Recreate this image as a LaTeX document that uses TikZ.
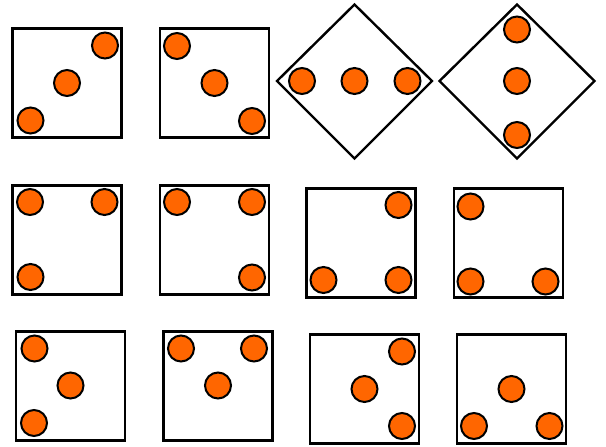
\documentclass[tikz,border=0pt]{standalone}
\definecolor{dotorange}{HTML}{FF6600}
\begin{document}
\begin{tikzpicture}[x=1pt,y=-1pt,
  frame/.style={draw=black,line width=2.4pt,line join=miter},
  pip/.style={draw=black,fill=dotorange,line width=2pt}]
\useasboundingbox (0,0) rectangle (606,447);
% row 1
\draw[frame] (12.5,28.5) rectangle (121.5,137.5);
\draw[frame] (160,28.5) rectangle (269,137.5);
\draw[frame] (354.5,4.5) -- (432,81) -- (354.5,158.5) -- (277,81) -- cycle;
\draw[frame] (517,4.5) -- (594.5,81) -- (517,158.5) -- (439.5,81) -- cycle;
\foreach \x/\y in {105/45.5,67/83,30.5/120.5,177/46,214.5/83,252/121,
  302/81,354.5/81,407.5/81,517/29.5,517/81,517/135}
  \fill[pip] (\x,\y) circle (13);
% row 2
\draw[frame] (12.5,185.5) rectangle (121.5,294.5);
\draw[frame] (160,185.5) rectangle (269,294.5);
\draw[frame] (306.5,188.5) rectangle (415.5,297.5);
\draw[frame] (454,188.5) rectangle (563,297.5);
\foreach \x/\y in {30/202,104.5/202,30.5/277,177/202,252/202,252/277.5,
  398.5/205,323.5/280,398.5/280,470.5/206.5,470.5/281.5,545.5/281.5}
  \fill[pip] (\x,\y) circle (13);
% row 3
\draw[frame] (16,331.5) rectangle (125,440.5);
\draw[frame] (163.5,331.5) rectangle (272.5,440.5);
\draw[frame] (310,334.5) rectangle (419,443.5);
\draw[frame] (457,334.5) rectangle (566,443.5);
\foreach \x/\y in {34.5/348.5,70.5/385.5,34/423,181/348.5,254/348.5,218/385.5,
  402/351.5,364.5/389,402/426,511.5/389,474/426,549.5/426}
  \fill[pip] (\x,\y) circle (13);
\end{tikzpicture}
\end{document}
